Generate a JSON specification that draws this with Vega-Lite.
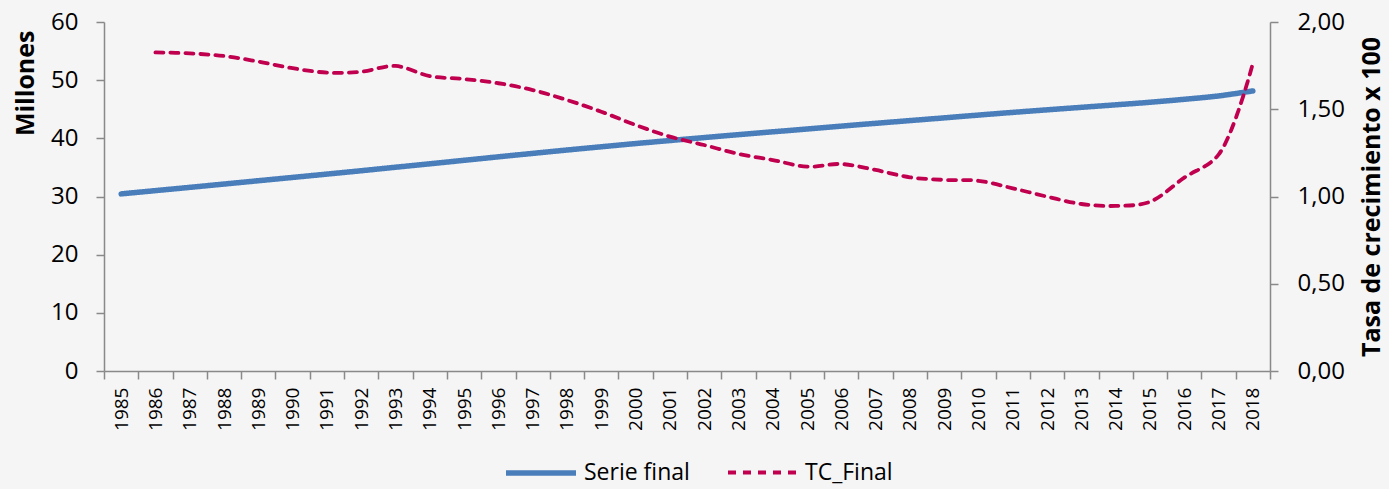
{
  "$schema": "https://vega.github.io/schema/vega-lite/v6.json",
  "width": 1166,
  "height": 349,
  "autosize": {"type": "none"},
  "padding": {"left": 104, "top": 22, "right": 119, "bottom": 118},
  "background": "#f5f5f5",
  "config": {
    "view": {"stroke": null},
    "font": "Open Sans",
    "axis": {
      "domainColor": "#898989",
      "tickColor": "#898989",
      "labelColor": "#000000",
      "titleColor": "#000000",
      "grid": false,
      "tickSize": 8,
      "domainWidth": 1.5,
      "tickWidth": 1.5
    },
    "legend": {
      "title": null,
      "orient": "none",
      "legendX": 399,
      "legendY": 413,
      "direction": "horizontal",
      "symbolType": "stroke",
      "symbolSize": 4900,
      "labelFontSize": 23,
      "labelOffset": 5,
      "columnPadding": 30,
      "labelColor": "#000000"
    }
  },
  "data": {
    "values": [
      {"year": "1985", "serie": 30.45, "tc": null},
      {"year": "1986", "serie": 31.01, "tc": 1.826},
      {"year": "1987", "serie": 31.57, "tc": 1.82},
      {"year": "1988", "serie": 32.14, "tc": 1.805},
      {"year": "1989", "serie": 32.71, "tc": 1.773},
      {"year": "1990", "serie": 33.28, "tc": 1.735},
      {"year": "1991", "serie": 33.85, "tc": 1.71},
      {"year": "1992", "serie": 34.43, "tc": 1.715},
      {"year": "1993", "serie": 35.03, "tc": 1.748},
      {"year": "1994", "serie": 35.62, "tc": 1.69},
      {"year": "1995", "serie": 36.22, "tc": 1.673},
      {"year": "1996", "serie": 36.82, "tc": 1.649},
      {"year": "1997", "serie": 37.41, "tc": 1.61},
      {"year": "1998", "serie": 37.99, "tc": 1.553},
      {"year": "1999", "serie": 38.55, "tc": 1.486},
      {"year": "2000", "serie": 39.10, "tc": 1.41},
      {"year": "2001", "serie": 39.62, "tc": 1.343},
      {"year": "2002", "serie": 40.13, "tc": 1.295},
      {"year": "2003", "serie": 40.63, "tc": 1.244},
      {"year": "2004", "serie": 41.12, "tc": 1.209},
      {"year": "2005", "serie": 41.60, "tc": 1.171},
      {"year": "2006", "serie": 42.10, "tc": 1.186},
      {"year": "2007", "serie": 42.58, "tc": 1.152},
      {"year": "2008", "serie": 43.05, "tc": 1.11},
      {"year": "2009", "serie": 43.52, "tc": 1.095},
      {"year": "2010", "serie": 44.00, "tc": 1.09},
      {"year": "2011", "serie": 44.46, "tc": 1.047},
      {"year": "2012", "serie": 44.90, "tc": 0.999},
      {"year": "2013", "serie": 45.33, "tc": 0.957},
      {"year": "2014", "serie": 45.76, "tc": 0.946},
      {"year": "2015", "serie": 46.20, "tc": 0.97},
      {"year": "2016", "serie": 46.71, "tc": 1.108},
      {"year": "2017", "serie": 47.29, "tc": 1.24},
      {"year": "2018", "serie": 48.15, "tc": 1.763}
    ]
  },
  "encoding": {
    "x": {
      "field": "year",
      "type": "ordinal",
      "bandPosition": 0.5,
      "scale": {"type": "band", "paddingInner": 0, "paddingOuter": 0},
      "axis": {
        "title": null,
        "labelAngle": -90,
        "labelAlign": "right",
        "labelBaseline": "middle",
        "labelFontSize": 19,
        "tickBand": "extent",
        "labelPadding": 8
      }
    }
  },
  "layer": [
    {
      "mark": {"type": "line", "interpolate": "catmull-rom", "strokeCap": "round"},
      "encoding": {
        "y": {
          "field": "serie",
          "type": "quantitative",
          "scale": {"domain": [0, 60]},
          "axis": {
            "title": "Millones",
            "values": [0, 10, 20, 30, 40, 50, 60],
            "labelFontSize": 24,
            "labelPadding": 18,
            "titleFontSize": 25,
            "titleFontWeight": "bold",
            "titleAnchor": "end",
            "titleY": 8,
            "titlePadding": 12
          }
        },
        "color": {
          "datum": "Serie final",
          "scale": {"domain": ["Serie final", "TC_Final"], "range": ["#4a7ebb", "#c0004e"]}
        },
        "strokeDash": {
          "datum": "Serie final",
          "scale": {"domain": ["Serie final", "TC_Final"], "range": [[1, 0], [8, 7]]}
        },
        "strokeWidth": {
          "datum": "Serie final",
          "scale": {"domain": ["Serie final", "TC_Final"], "range": [5.5, 3.8]}
        }
      }
    },
    {
      "mark": {"type": "line", "interpolate": "catmull-rom", "strokeCap": "round"},
      "encoding": {
        "y": {
          "field": "tc",
          "type": "quantitative",
          "scale": {"domain": [0, 2]},
          "axis": {
            "orient": "right",
            "title": "Tasa de crecimiento x 100",
            "values": [0, 0.5, 1, 1.5, 2],
            "labelExpr": "replace(format(datum.value, '.2f'), '.', ',')",
            "labelFontSize": 24,
            "labelPadding": 19,
            "titleFontSize": 25,
            "titleFontWeight": "bold",
            "titleAngle": 270,
            "titlePadding": 40
          }
        },
        "color": {"datum": "TC_Final"},
        "strokeDash": {"datum": "TC_Final"},
        "strokeWidth": {"datum": "TC_Final"}
      }
    }
  ],
  "resolve": {"scale": {"y": "independent"}}
}
